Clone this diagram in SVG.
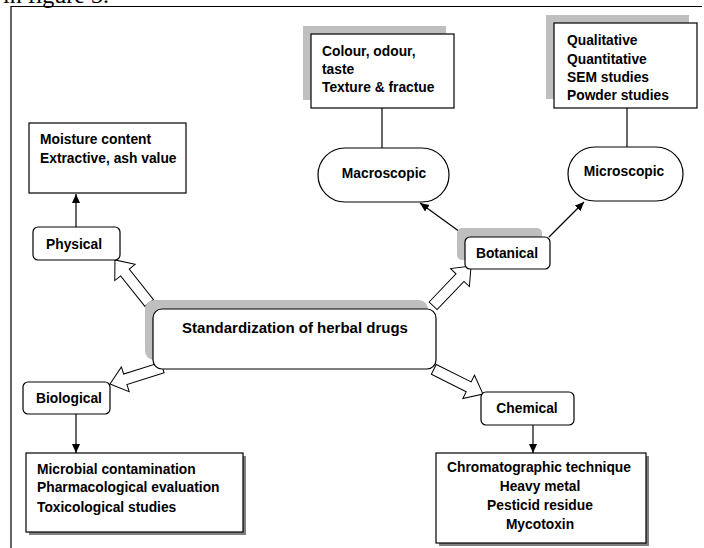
<svg xmlns="http://www.w3.org/2000/svg" width="704" height="548" viewBox="0 0 704 548">
<defs>
<style>
.t{font-family:"Liberation Sans",Arial,sans-serif;font-weight:bold;font-size:13.8px;fill:#000}
.c{text-anchor:middle}
.box{fill:#fff;stroke:#000;stroke-width:1.2}
.sh{fill:#bfbfbf}
.dsh{fill:#7f7f7f}
.ln{stroke:#000;stroke-width:1.2;fill:none}
.blk{fill:#fff;stroke:#000;stroke-width:1}
</style>
<marker id="ah" markerUnits="userSpaceOnUse" markerWidth="10" markerHeight="10" refX="9" refY="4" orient="auto">
<path d="M0,0 L9,4 L0,8 Z" fill="#000"/>
</marker>
<polygon id="barrow" points="0,-5.5 39,-5.5 39,-13 55,0 39,13 39,5.5 0,5.5"/>
</defs>
<rect width="704" height="548" fill="#fff"/>
<text x="3" y="3" style="font-family:'Liberation Serif','Times New Roman',serif;font-size:24px" fill="#000">in figure 3.</text>
<path class="ln" d="M11,548 L11,6.5 L702,6.5"/>

<g id="connectors">
<use href="#barrow" class="blk" transform="translate(149.2,303) rotate(-128.5)"/>
<use href="#barrow" class="blk" transform="translate(433.1,305.8) rotate(-46.4)"/>
<use href="#barrow" class="blk" transform="translate(162.5,367.6) rotate(162.6)"/>
<use href="#barrow" class="blk" transform="translate(433.8,369.4) rotate(26.6)"/>
<line class="ln" x1="76" y1="227" x2="76" y2="194" marker-end="url(#ah)"/>
<line class="ln" x1="467" y1="237" x2="420" y2="203" marker-end="url(#ah)"/>
<line class="ln" x1="549" y1="237" x2="584" y2="202" marker-end="url(#ah)"/>
<line class="ln" x1="76" y1="414" x2="76" y2="453" marker-end="url(#ah)"/>
<line class="ln" x1="533" y1="425" x2="533" y2="453" marker-end="url(#ah)"/>
<line class="ln" x1="382" y1="108" x2="382" y2="148"/>
<line class="ln" x1="627" y1="108" x2="627" y2="147"/>
</g>

<g id="center">
<rect class="sh" x="145" y="300" width="283" height="60" rx="9"/>
<rect class="box" x="153" y="309" width="283" height="60" rx="9"/>
<text class="t c" x="295" y="333" style="font-size:15px">Standardization of herbal drugs</text>
</g>

<g id="physical">
<rect class="box" x="33" y="227" width="87" height="33" rx="5"/>
<text class="t" x="46" y="249">Physical</text>
</g>

<g id="moisture">
<rect class="box" x="29" y="123" width="157" height="70"/>
<text class="t" x="40" y="144">Moisture content</text>
<text class="t" x="40" y="163">Extractive, ash value</text>
</g>

<g id="botanical">
<rect class="sh" x="457" y="228" width="85" height="32" rx="5"/>
<rect class="box" x="465" y="237" width="85" height="32" rx="5"/>
<text class="t c" x="507" y="258">Botanical</text>
</g>

<g id="macroscopic">
<rect class="box" x="318" y="148" width="131" height="54" rx="27"/>
<text class="t c" x="384" y="178">Macroscopic</text>
</g>

<g id="microscopic">
<rect class="box" x="568" y="147" width="115" height="54" rx="27"/>
<text class="t c" x="624" y="176">Microscopic</text>
</g>

<g id="macro-list">
<rect class="sh" x="303" y="26" width="143" height="74"/>
<rect class="box" x="311" y="34" width="143" height="74"/>
<text class="t" x="322" y="56">Colour, odour,</text>
<text class="t" x="322" y="74">taste</text>
<text class="t" x="322" y="92">Texture &amp; fractue</text>
</g>

<g id="micro-list">
<rect class="sh" x="546" y="15" width="143" height="84"/>
<rect class="box" x="554" y="23" width="143" height="85"/>
<text class="t" x="567" y="45">Qualitative</text>
<text class="t" x="567" y="63.5">Quantitative</text>
<text class="t" x="567" y="82">SEM studies</text>
<text class="t" x="567" y="100">Powder studies</text>
</g>

<g id="biological">
<rect class="box" x="23" y="382" width="87" height="32" rx="5"/>
<text class="t" x="36" y="403">Biological</text>
</g>

<g id="bio-list">
<rect class="dsh" x="29" y="456" width="217" height="79"/>
<rect class="box" x="26" y="453" width="217" height="79"/>
<text class="t" x="37" y="474">Microbial contamination</text>
<text class="t" x="37" y="492">Pharmacological evaluation</text>
<text class="t" x="37" y="512">Toxicological studies</text>
</g>

<g id="chemical">
<rect class="box" x="481" y="392" width="93" height="33" rx="5"/>
<text class="t c" x="527" y="413">Chemical</text>
</g>

<g id="chem-list">
<rect class="dsh" x="439" y="456" width="210" height="90"/>
<rect class="box" x="436" y="453" width="210" height="90"/>
<text class="t c" x="539" y="472">Chromatographic technique</text>
<text class="t c" x="540" y="491">Heavy metal</text>
<text class="t c" x="540" y="510">Pesticid residue</text>
<text class="t c" x="540" y="529">Mycotoxin</text>
</g>
</svg>
